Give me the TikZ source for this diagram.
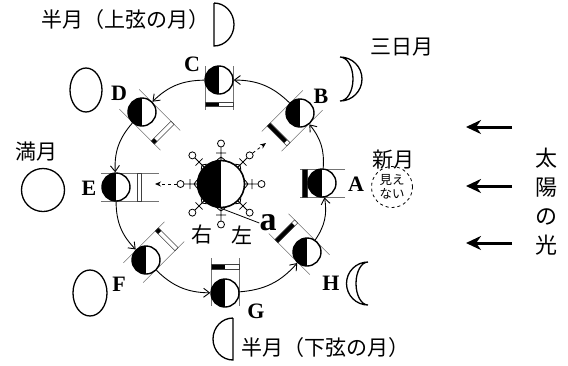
\documentclass[tikz,border=0pt]{standalone}
\usepackage{fontspec}
\setmainfont{Liberation Serif}
\newfontfamily\jpfont{Noto Sans CJK JP}
\usetikzlibrary{arrows.meta}

% tangent lines of a moon towards the earth, with the bar showing its lit part
\newcommand{\viewframe}[6]{%
  \begin{scope}[shift={(#1)}, rotate=#2+180, yscale=#3]
    \pgfmathsetmacro\litedge{14*cos(#2)}
    \draw[frameline] (-#4,-14) -- (#5,-14) (-#4,14) -- (#5,14);
    \fill[black] (#6,-14) rectangle (#6+4.5,\litedge);
    \draw[barline] (#6,-14) rectangle (#6+4.5,14);
  \end{scope}}

\begin{document}
\begin{tikzpicture}[x=1pt, y=-1pt, every node/.style={inner sep=0pt},
  moon/.style={circle, draw, line width=1.4pt, fill=white, minimum size=28pt,
    path picture={\fill[black] (path picture bounding box.south west) rectangle (path picture bounding box.north);}},
  earthball/.style={moon, minimum size=47pt, line width=1.6pt},
  orbit/.style={line width=0.9pt, -{Straight Barb[length=6pt,width=9pt]}},
  frameline/.style={draw=black!55, line width=0.6pt},
  barline/.style={draw=black!75, line width=0.6pt},
  person/.style={line width=0.8pt},
  head/.style={circle, draw, fill=white, line width=0.8pt, minimum size=7pt},
  sight/.style={dashed, line width=0.8pt, -{Stealth[length=6pt,width=5pt]}},
  sunray/.style={line width=3pt, -{Stealth[length=15pt,width=14pt]}},
  phase/.style={line width=1.3pt},
  letter/.style={font=\fontsize{22}{22}\selectfont\bfseries},
  jp/.style={font=\jpfont\fontsize{21}{24}\selectfont},
  newmoon/.style={circle, draw, dashed, line width=0.8pt, minimum size=41pt, align=center,
    font=\jpfont\fontsize{12.5}{14}\selectfont}]
\useasboundingbox (0,0) rectangle (568,365);

% earth and the moon on its orbit
\node[earthball] (earth) at (221,184) {};
\coordinate (A) at (322,183); \coordinate (B) at (300,113);
\coordinate (C) at (219,80);  \coordinate (D) at (142,112);
\coordinate (E) at (116,187); \coordinate (F) at (146,260);
\coordinate (G) at (225,293); \coordinate (H) at (307,252);

\viewframe{A}{0}{-1}{23}{22}{15}
\viewframe{B}{45}{-1}{18}{40}{28}
\viewframe{C}{90}{-1}{14}{30}{22}
\viewframe{D}{135}{-1}{18}{40}{27}
\viewframe{E}{180}{-1}{15}{43}{21}
\viewframe{F}{225}{1}{18}{40}{27}
\viewframe{G}{270}{1}{13}{35}{24}
\viewframe{H}{315}{1}{18}{40}{27}

\node[moon] (mA) at (A) {}; \node[moon] (mB) at (B) {};
\node[moon] (mC) at (C) {}; \node[moon] (mD) at (D) {};
\node[moon] (mE) at (E) {}; \node[moon] (mF) at (F) {};
\node[moon] (mG) at (G) {}; \node[moon] (mH) at (H) {};

\draw[orbit] (mA) to[bend right=22] (mB);
\draw[orbit] (mB) to[bend right=22] (mC);
\draw[orbit] (mC) to[bend right=22] (mD);
\draw[orbit] (mD) to[bend right=22] (mE);
\draw[orbit] (mE) to[bend right=22] (mF);
\draw[orbit] (mF) to[bend right=22] (mG);
\draw[orbit] (mG) to[bend right=22] (mH);
\draw[orbit] (mH) to[bend right=22] (mA);

\node[letter] (lA) at (356,184) {A};
\node[letter] (lB) at (321,96) {B};
\node[letter] (lC) at (192,64) {C};
\node[letter] (lD) at (119,93) {D};
\node[letter] (lE) at (89,188) {E};
\node[letter] (lF) at (119,284) {F};
\node[letter] (lG) at (256,311) {G};
\node[letter] (lH) at (331,283) {H};

% people standing on the earth
\foreach \ang in {0,45,...,315}{
  \begin{scope}[shift={(earth)}, rotate=\ang]
    \draw[person] (24,0) -- (37,0) (31,-5) -- (31,5) (24,-4) -- (27,0) -- (24,4);
    \node[head] (head\ang) at (40.5,0) {};
  \end{scope}}
\coordinate (lookE) at (155,184);
\coordinate (lookB) at (266,143);
\draw[sight] (head180) -- (lookE);
\draw[sight] (head45) -- (lookB);

\node[font=\bfseries\fontsize{34}{34}\selectfont] (pointa) at (268,223) {a};
\draw[line width=0.8pt] (earth.south) -- (pointa.west);
\node[jp] (right) at (202,235) {右};
\node[jp] (left) at (242,235) {左};

% how the moon looks
\draw[phase] (214,3) -- (214,46) arc[start angle=90, end angle=-90, x radius=20, y radius=21.5];
\node[jp, anchor=east] (firstq) at (210,20) {半月（上弦の月）};
\draw[phase] (340,57) arc[start angle=-90, end angle=90, radius=22]
  arc[start angle=90, end angle=-90, x radius=13, y radius=22];
\node[jp] (crescent) at (402,47) {三日月};
\draw[phase] (86,90) ellipse[x radius=16, y radius=22];
\node[jp] (fullq) at (37,152) {満月};
\draw[phase] (43,190) circle[radius=21.5];
\draw[phase] (90,293) ellipse[x radius=17, y radius=23];
\draw[phase] (233,318) -- (233,360) arc[start angle=90, end angle=270, x radius=20, y radius=21];
\node[jp, anchor=west] (lastq) at (241,348) {半月（下弦の月）};
\draw[phase] (368,262) arc[start angle=-90, end angle=-270, radius=21.5]
  arc[start angle=90, end angle=270, x radius=12, y radius=21.5];
\node[jp] (newq) at (393,160) {新月};
\node[newmoon] (nm) at (392,187) {見え\\ない};

% sunlight
\coordinate (s1) at (512,127); \coordinate (e1) at (466,127);
\coordinate (s2) at (512,186); \coordinate (e2) at (466,186);
\coordinate (s3) at (512,243); \coordinate (e3) at (466,243);
\draw[sunray] (s1) -- (e1);
\draw[sunray] (s2) -- (e2);
\draw[sunray] (s3) -- (e3);
\node[jp, align=center, font=\jpfont\fontsize{22}{29}\selectfont] (sun) at (546,202) {太\\陽\\の\\光};
\end{tikzpicture}
\end{document}
